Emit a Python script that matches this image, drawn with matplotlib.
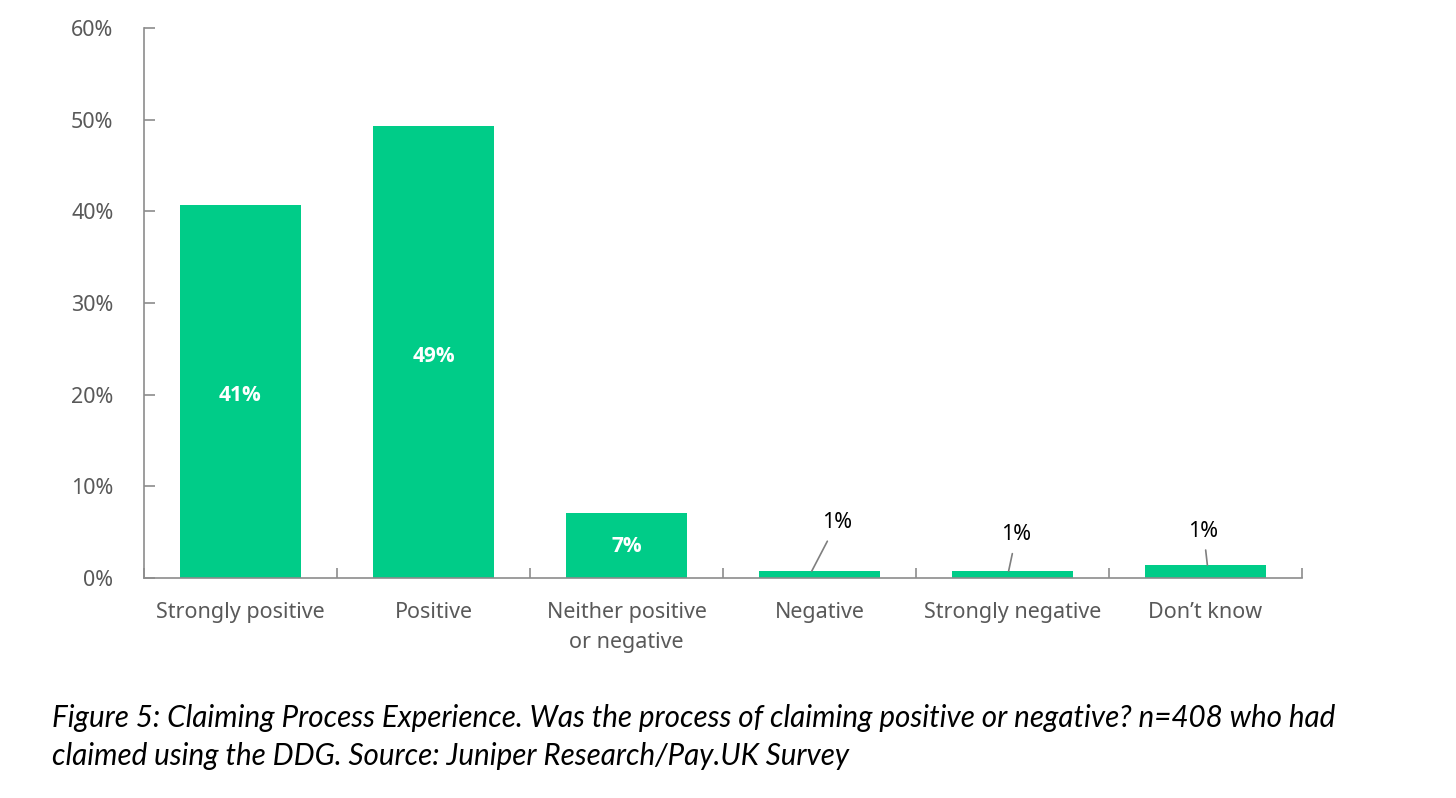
import numpy as np
import matplotlib
matplotlib.use("Agg")
import matplotlib.pyplot as plt

##chart data
categories = ["Strongly positive", "Positive", "Neither positive\nor negative",
              "Negative", "Strongly negative", "Don\u2019t know"]
values = [40.7, 49.3, 7.1, 0.75, 0.75, 1.4]
labels = ["41%", "49%", "7%", "1%", "1%", "1%"]
y_ticks = [0, 10, 20, 30, 40, 50, 60]
caption = ("Figure 5: Claiming Process Experience. Was the process of claiming positive or negative? n=408 who had\n"
           "claimed using the DDG. Source: Juniper Research/Pay.UK Survey")

green = "#00CC88"
grey = "#595959"
axis_grey = "#8c8c8c"

plt.rcParams["font.family"] = ["Noto Sans", "DejaVu Sans"]

fig = plt.figure(figsize=(14.56, 7.98), dpi=100)
ax = fig.add_axes([0.0989, 0.2757, 0.7953, 0.6892])

x = np.arange(len(categories))
ax.bar(x, values, width=0.63, color=green)

ax.set_xlim(-0.5, len(categories) - 0.5)
ax.set_ylim(0, 60)

##y axis
ax.set_yticks(y_ticks)
ax.set_yticklabels([f"{t}%" for t in y_ticks])
ax.tick_params(axis="y", direction="in", length=8, width=1.2, color=axis_grey,
               labelsize=15.5, labelcolor=grey, pad=22)

##x axis: ticks between categories
ax.set_xticks(x)
ax.set_xticklabels(categories, linespacing=1.6)
ax.set_xticks(np.arange(len(categories) + 1) - 0.5, minor=True)
ax.tick_params(axis="x", which="major", length=0, labelsize=15.5, labelcolor=grey, pad=17)
ax.tick_params(axis="x", which="minor", direction="in", length=7, width=1.2, color=axis_grey)

for side in ["top", "right"]:
    ax.spines[side].set_visible(False)
for side in ["left", "bottom"]:
    ax.spines[side].set_color(axis_grey)
    ax.spines[side].set_linewidth(1.2)

##labels inside big bars
for i in range(3):
    ax.text(x[i], values[i] * 0.49, labels[i], family=["Open Sans", "DejaVu Sans"],
            ha="center", va="center", color="white", fontsize=15, fontweight="bold")

##labels with leader lines for the small bars
label_pos = [(3.09, 6.0), (4.02, 4.7), (4.99, 5.1)]
line_end = [(2.96, values[3]), (3.98, values[4]), (5.01, values[5])]
for k, i in enumerate([3, 4, 5]):
    ax.annotate(labels[i], xy=line_end[k], xytext=label_pos[k],
                ha="center", va="center", fontsize=15.5, color="black",
                arrowprops=dict(arrowstyle="-", color="#7f7f7f", lw=1.2,
                                shrinkA=4, shrinkB=0))

fig.text(0.036, 0.035, caption, fontsize=21.3, style="italic", color="black",
         family=["Lato", "DejaVu Sans"], ha="left", va="bottom", linespacing=1.45)

fig.savefig("out.png", dpi=100, facecolor="white")
